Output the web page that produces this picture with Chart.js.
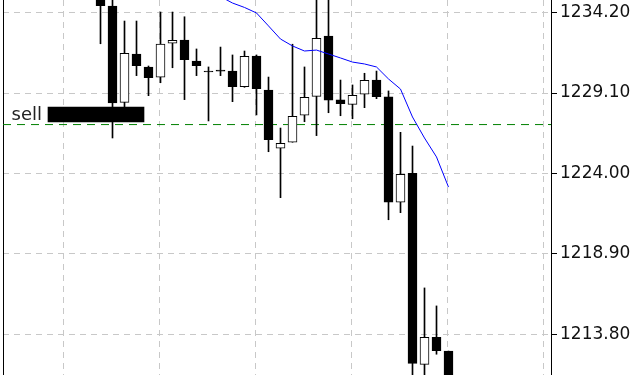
<!DOCTYPE html>
<html>
<head>
<meta charset="utf-8">
<script src="https://cdn.jsdelivr.net/npm/chart.js@4/dist/chart.umd.min.js"></script>
<style>
  html, body { margin: 0; padding: 0; background: #fff; }
  #wrap { width: 640px; height: 375px; position: relative; }
</style>
</head>
<body>
<div id="wrap"><canvas id="chart"></canvas></div>
<script>
// Velas (índice 0 = primera vela visible)
const OPEN  = [1236.26, 1234.61, 1228.51, 1231.57, 1230.75, 1230.10, 1232.25, 1232.46, 1231.13, 1230.43,
               1230.49, 1230.49, 1229.50, 1231.44, 1229.29, 1225.60, 1225.98, 1227.69, 1228.89, 1232.71,
               1228.66, 1228.38, 1229.02, 1229.92, 1228.85, 1222.18, 1224.01, 1211.91, 1213.62, 1212.75];
const HIGH  = [1237.52, 1235.18, 1233.66, 1233.66, 1230.81, 1234.23, 1234.23, 1233.93, 1231.89, 1230.75,
               1232.01, 1231.51, 1231.76, 1231.51, 1230.11, 1226.88, 1232.19, 1230.75, 1235.30, 1235.30,
               1229.92, 1229.61, 1230.35, 1230.49, 1229.23, 1226.61, 1225.74, 1216.75, 1215.61, 1212.75];
const LOW   = [1232.22, 1226.25, 1228.15, 1230.20, 1228.93, 1229.75, 1230.70, 1228.68, 1230.20, 1227.33,
               1230.20, 1228.55, 1229.46, 1227.71, 1225.38, 1222.47, 1225.98, 1227.28, 1226.40, 1227.85,
               1227.66, 1227.47, 1228.17, 1228.74, 1221.07, 1221.52, 1210.80, 1210.80, 1212.55, 1210.50];
const CLOSE = [1234.63, 1228.47, 1231.61, 1230.83, 1230.07, 1232.20, 1232.44, 1231.21, 1230.83, 1230.43,
               1230.49, 1229.50, 1231.43, 1229.37, 1226.14, 1225.91, 1227.62, 1228.83, 1232.57, 1228.64,
               1228.42, 1228.95, 1229.91, 1228.87, 1222.18, 1223.95, 1211.97, 1213.62, 1212.77, 1210.80];

// Media móvil
const MA = [null, null, null, null, null, null, null, null, null, 1235.75,
            1235.21, 1234.80, 1234.52, 1234.17, 1233.35, 1232.52, 1232.08, 1231.76, 1231.82, 1231.57,
            1231.32, 1231.06, 1230.94, 1230.75, 1229.99, 1229.35, 1227.58, 1226.25, 1225.05, 1223.14];

// Orden de venta
const SELL_PRICE = 1227.10;
const SELL_BOX = [1227.26, 1228.21];
const SELL_BOX_X = -0.375;

// Ejes
const Y_TICKS = [1213.80, 1218.90, 1224.00, 1229.10, 1234.20];
const X_GRID = [-3.0833, 4.9167, 12.9167, 20.9167, 28.9167, 36.9167];
const X_MIN = -8.125, X_MAX = 37.5417;
const Y_MIN = 1211.234, Y_MAX = 1234.992;

const idx = OPEN.map((_, i) => i);

const sellLabel = {
  id: 'sellLabel',
  beforeDatasetsDraw(chart) {
    // borde izquierdo de la ventana
    const { ctx, chartArea } = chart;
    ctx.save();
    ctx.fillStyle = '#000';
    ctx.fillRect(Math.round(chartArea.left), 0, 1, chart.height);
    ctx.restore();
  },
  afterDatasetsDraw(chart) {
    const { ctx, chartArea, scales: { x, y } } = chart;
    const left = x.getPixelForValue(SELL_BOX_X) - 48;
    const base = y.getPixelForValue(SELL_BOX[0]) - 2;
    ctx.save();
    ctx.font = '18px "DejaVu Sans"';
    ctx.fillStyle = '#222';
    ctx.textAlign = 'right';
    ctx.textBaseline = 'alphabetic';
    ctx.fillText('sell', left - 6, base);
    // marca verde en el eje
    const yp = Math.floor(y.getPixelForValue(SELL_PRICE));
    ctx.fillStyle = '#008000';
    ctx.fillRect(chartArea.right - 3, yp, 3, 1);
    ctx.restore();
  }
};

new Chart(document.getElementById('chart'), {
  type: 'bar',
  data: {
    datasets: [
      {
        type: 'line',
        order: 5,
        data: [{ x: X_MIN, y: SELL_PRICE }, { x: X_MAX, y: SELL_PRICE }],
        borderColor: '#008000',
        borderWidth: 1,
        borderDash: [8, 6],
        pointRadius: 0,
        clip: 0
      },
      {
        // mechas
        order: 4,
        grouped: false,
        data: idx.map(i => ({ x: i, y: [LOW[i], HIGH[i]] })),
        backgroundColor: '#000',
        borderWidth: 0,
        barThickness: 1,
        clip: 0
      },
      {
        // cuerpos
        order: 3,
        grouped: false,
        data: idx.map(i => ({ x: i, y: [OPEN[i], CLOSE[i]] })),
        backgroundColor: idx.map(i => CLOSE[i] > OPEN[i] ? '#fff' : '#000'),
        borderColor: '#000',
        borderWidth: 1,
        borderSkipped: false,
        minBarLength: 1,
        barThickness: 9,
        clip: 0
      },
      {
        type: 'line',
        order: 2,
        data: idx.filter(i => MA[i] !== null).map(i => ({ x: i, y: MA[i] })),
        borderColor: '#0000ff',
        borderWidth: 1,
        pointRadius: 0,
        tension: 0,
        clip: 0
      },
      {
        order: 1,
        grouped: false,
        data: [{ x: SELL_BOX_X, y: SELL_BOX }],
        backgroundColor: '#000',
        borderWidth: 0,
        barThickness: 96,
        clip: 0
      }
    ]
  },
  options: {
    responsive: true,
    maintainAspectRatio: false,
    animation: false,
    layout: { padding: { left: 3, top: 0, right: 0, bottom: 0 } },
    plugins: {
      legend: { display: false },
      tooltip: { enabled: false }
    },
    scales: {
      x: {
        type: 'linear',
        min: X_MIN,
        max: X_MAX,
        offset: false,
        afterBuildTicks: s => { s.ticks = X_GRID.map(v => ({ value: v })); },
        afterFit: s => { s.height = 0; s.paddingLeft = 0; s.paddingRight = 0; },
        ticks: { display: false },
        grid: { color: '#c8c8c8', offset: false, drawTicks: false },
        border: { display: false, dash: [6, 5] }
      },
      y: {
        position: 'right',
        min: Y_MIN,
        max: Y_MAX,
        afterBuildTicks: s => { s.ticks = Y_TICKS.map(v => ({ value: v })); },
        afterFit: s => { s.width = 89; s.paddingTop = 0; s.paddingBottom = 0; },
        ticks: {
          callback: v => Number(v).toFixed(2),
          color: '#111',
          font: { family: 'DejaVu Sans', size: 17 },
          padding: 3,
          autoSkip: false
        },
        grid: { color: '#c8c8c8', tickColor: '#000', tickLength: 6, drawTicks: true },
        border: { display: true, color: '#000', width: 1, dash: [6, 5] }
      }
    }
  },
  plugins: [sellLabel]
});
</script>
</body>
</html>
